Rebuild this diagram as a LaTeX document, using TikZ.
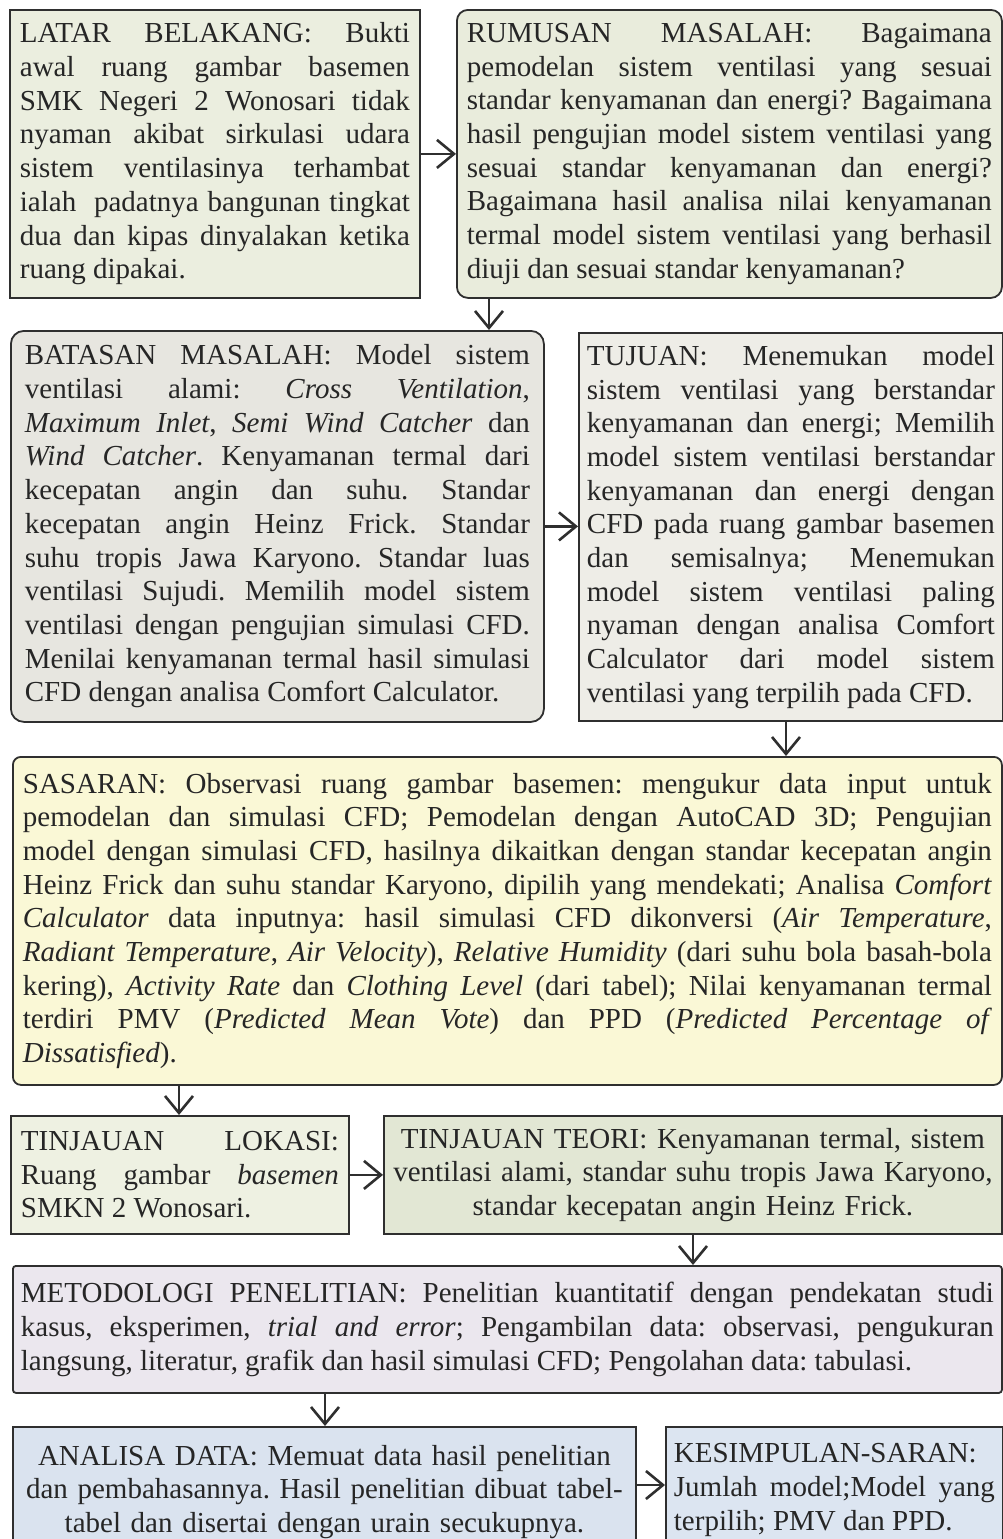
\documentclass[tikz,border=0pt]{standalone}
\usepackage{fontspec}
\setmainfont{Liberation Serif}
\usetikzlibrary{arrows.meta}

\definecolor{ink}{HTML}{2F2F2F}
\definecolor{txt}{HTML}{262626}
\definecolor{latarfill}{HTML}{EBEEDF}
\definecolor{rumusfill}{HTML}{E9ECDC}
\definecolor{batasfill}{HTML}{E7E6E0}
\definecolor{tujuanfill}{HTML}{EEEDE7}
\definecolor{sasaranfill}{HTML}{FAF8D6}
\definecolor{lokasifill}{HTML}{EEF1E2}
\definecolor{teorifill}{HTML}{E2E7D4}
\definecolor{metodefill}{HTML}{EBE7EE}
\definecolor{analisafill}{HTML}{DAE3EF}
\definecolor{simpulfill}{HTML}{DCE5F1}

\newcommand{\boxfont}{\fontsize{29pt}{33.7pt}\selectfont\frenchspacing
  \tolerance=10000 \hyphenpenalty=10000 \hbadness=10000 }

\begin{document}
\begin{tikzpicture}[x=1pt, y=-1pt,
    box/.style={draw=ink, line width=1.8pt, anchor=north west, inner ysep=0pt,
      text=txt, font=\boxfont, align=justify},
    flow/.style={draw=ink, line width=2.6pt,
      -{Straight Barb[length=17pt, width=28pt]}}]
  \useasboundingbox (0,0) rectangle (1003,1539);
  \clip (0,0) rectangle (1003,1539);
  \fill[white] (0,0) rectangle (1003,1539);

  \node[box, fill=latarfill, text width=390pt, inner xsep=10pt, minimum height=288pt]
    (latar) at (9,9) {LATAR BELAKANG: Bukti\linebreak
    awal ruang gambar basemen\linebreak
    SMK Negeri 2 Wonosari tidak\linebreak
    nyaman akibat sirkulasi udara\linebreak
    sistem ventilasinya terhambat\linebreak
    ialah~ padatnya bangunan tingkat\linebreak
    dua dan kipas dinyalakan ketika\linebreak
    ruang dipakai.};
  \node[box, fill=rumusfill, rounded corners=11pt, text width=525pt, inner xsep=10pt,
    minimum height=288pt] (rumusan) at (456,9) {RUMUSAN MASALAH: Bagaimana\linebreak
    pemodelan sistem ventilasi yang sesuai\linebreak
    standar kenyamanan dan energi? Bagaimana\linebreak
    hasil pengujian model sistem ventilasi yang\linebreak
    sesuai standar kenyamanan dan energi?\linebreak
    Bagaimana hasil analisa nilai kenyamanan\linebreak
    termal model sistem ventilasi yang berhasil\linebreak
    diuji dan sesuai standar kenyamanan?};

  \node[box, fill=batasfill, rounded corners=13pt, text width=505pt, inner xsep=14pt,
    minimum height=391pt] (batasan) at (10,330) {BATASAN MASALAH: Model sistem\linebreak
    ventilasi alami: \emph{Cross Ventilation},\linebreak
    \emph{Maximum Inlet}, \emph{Semi Wind Catcher} dan\linebreak
    \emph{Wind Catcher}. Kenyamanan termal dari\linebreak
    kecepatan angin dan suhu. Standar\linebreak
    kecepatan angin Heinz Frick. Standar\linebreak
    suhu tropis Jawa Karyono. Standar luas\linebreak
    ventilasi Sujudi. Memilih model sistem\linebreak
    ventilasi dengan pengujian simulasi CFD.\linebreak
    Menilai kenyamanan termal hasil simulasi\linebreak
    CFD dengan analisa Comfort Calculator.};
  \node[box, fill=tujuanfill, text width=408pt, inner xsep=8pt, minimum height=388pt]
    (tujuan) at (578,332) {TUJUAN: Menemukan model\linebreak
    sistem ventilasi yang berstandar\linebreak
    kenyamanan dan energi; Memilih\linebreak
    model sistem ventilasi berstandar\linebreak
    kenyamanan dan energi dengan\linebreak
    CFD pada ruang gambar basemen\linebreak
    dan semisalnya; Menemukan\linebreak
    model sistem ventilasi paling\linebreak
    nyaman dengan analisa Comfort\linebreak
    Calculator dari model sistem\linebreak
    ventilasi yang terpilih pada CFD.};

  \node[box, fill=sasaranfill, rounded corners=8pt, text width=969pt, inner xsep=10pt,
    minimum height=328pt] (sasaran) at (12,756) {SASARAN: Observasi ruang gambar basemen: mengukur data input untuk\linebreak
    pemodelan dan simulasi CFD; Pemodelan dengan AutoCAD 3D; Pengujian\linebreak
    model dengan simulasi CFD, hasilnya dikaitkan dengan standar kecepatan angin\linebreak
    Heinz Frick dan suhu standar Karyono, dipilih yang mendekati; Analisa \emph{Comfort}\linebreak
    \emph{Calculator} data inputnya: hasil simulasi CFD dikonversi (\emph{Air Temperature},\linebreak
    \emph{Radiant Temperature}, \emph{Air Velocity}), \emph{Relative Humidity} (dari suhu bola basah-bola\linebreak
    kering), \emph{Activity Rate} dan \emph{Clothing Level} (dari tabel); Nilai kenyamanan termal\linebreak
    terdiri PMV (\emph{Predicted Mean Vote}) dan PPD (\emph{Predicted Percentage of}\linebreak
    \emph{Dissatisfied}).};

  \node[box, fill=lokasifill, text width=318pt, inner xsep=10pt, minimum height=118pt]
    (lokasi) at (10,1115) {TINJAUAN LOKASI:\linebreak
    Ruang gambar \emph{basemen}\linebreak
    SMKN 2 Wonosari.};
  \node[box, fill=teorifill, align=center, text width=606pt, inner xsep=6pt,
    minimum height=118pt] (teori) at (383,1115)
    {TINJAUAN TEORI: Kenyamanan termal, sistem\\
    ventilasi alami, standar suhu tropis Jawa Karyono,\\
    standar kecepatan angin Heinz Frick.};

  \node[box, fill=metodefill, rounded corners=3pt, text width=973pt, inner xsep=8pt,
    minimum height=127pt] (metode) at (12,1265) {METODOLOGI PENELITIAN: Penelitian kuantitatif dengan pendekatan studi\linebreak
    kasus, eksperimen, \emph{trial and error}; Pengambilan data: observasi, pengukuran\linebreak
    langsung, literatur, grafik dan hasil simulasi CFD; Pengolahan data: tabulasi.};

  \node[box, fill=analisafill, align=center, text width=619pt, inner xsep=2pt,
    minimum height=130pt] (analisa) at (12,1426)
    {ANALISA DATA: Memuat data hasil penelitian\\
    dan pembahasannya. Hasil penelitian dibuat tabel-\\
    tabel dan disertai dengan urain secukupnya.};
  \node[box, fill=simpulfill, text width=321pt, inner xsep=8pt, minimum height=126pt]
    (simpulan) at (665,1426) {KESIMPULAN-SARAN:\linebreak
    Jumlah model;Model yang\linebreak
    terpilih; PMV dan PPD.};

  \coordinate (x2) at (489,0);
  \coordinate (x4) at (786,0);
  \coordinate (x5) at (179,0);
  \coordinate (x7) at (693,0);
  \coordinate (x8) at (325,0);

  \draw[flow] (latar.east) -- (rumusan.west |- latar.east);
  \draw[flow] (rumusan.south -| x2) -- (batasan.north -| x2);
  \draw[flow] (batasan.east) -- (tujuan.west |- batasan.east);
  \draw[flow] (tujuan.south -| x4) -- (sasaran.north -| x4);
  \draw[flow] (sasaran.south -| x5) -- (lokasi.north -| x5);
  \draw[flow] (lokasi.east) -- (teori.west |- lokasi.east);
  \draw[flow] (teori.south -| x7) -- (metode.north -| x7);
  \draw[flow] (metode.south -| x8) -- (analisa.north -| x8);
  \draw[flow] (analisa.east |- 0,1485) -- (simpulan.west |- 0,1485);
\end{tikzpicture}
\end{document}
